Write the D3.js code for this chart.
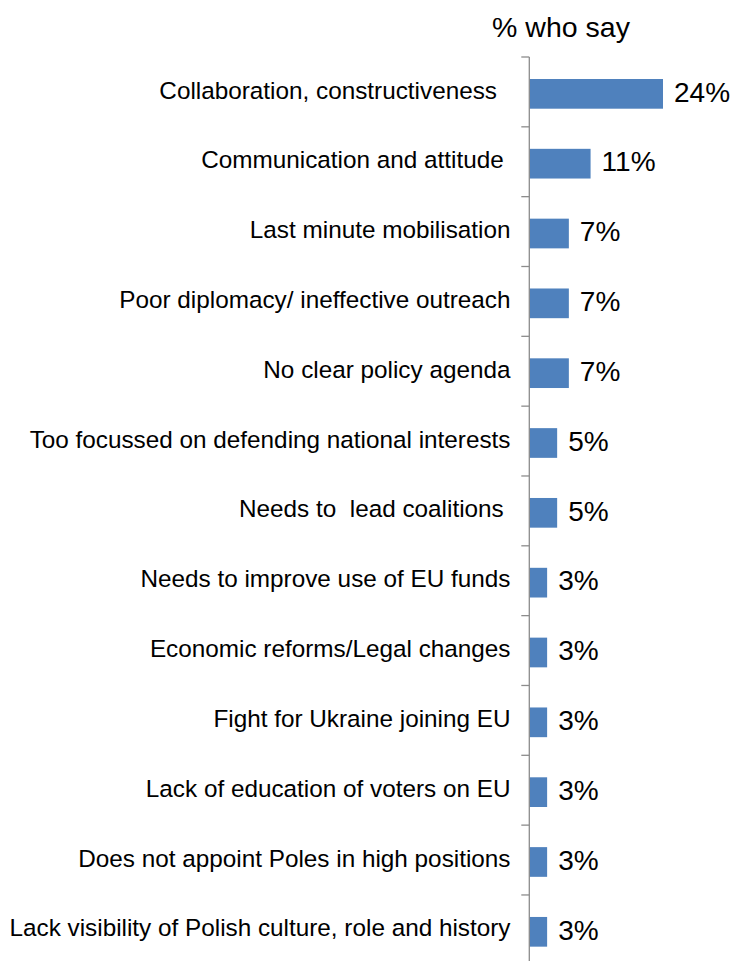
<!DOCTYPE html>
<html>
<head>
<meta charset="utf-8">
<script src="https://cdn.jsdelivr.net/npm/d3@7"></script>
<style>
  html, body { margin: 0; padding: 0; background: #fff; }
  svg { display: block; }
  text { font-family: "Liberation Sans", Arial, sans-serif; fill: #000; white-space: pre; }
</style>
</head>
<body>
<svg id="chart" width="735" height="961"></svg>
<script>
const categories = [
  "Collaboration, constructiveness  ",
  "Communication and attitude ",
  "Last minute mobilisation",
  "Poor diplomacy/ ineffective outreach",
  "No clear policy agenda",
  "Too focussed on defending national interests",
  "Needs to  lead coalitions ",
  "Needs to improve use of EU funds",
  "Economic reforms/Legal changes",
  "Fight for Ukraine joining EU",
  "Lack of education of voters on EU",
  "Does not appoint Poles in high positions",
  "Lack visibility of Polish culture, role and history"
];
const values = [24, 11, 7.1, 7.1, 7.1, 5, 5, 3.2, 3.2, 3.2, 3.2, 3.2, 3.2];
const valueLabels = ["24%", "11%", "7%", "7%", "7%", "5%", "5%", "3%", "3%", "3%", "3%", "3%", "3%"];
const title = "% who say";

const svg = d3.select("#chart");
const axisX = 529.3;
const plotTop = 57, step = 69.83;

const y = d3.scaleBand()
  .domain(categories)
  .range([plotTop, plotTop + step * categories.length])
  .paddingInner(0).paddingOuter(0);

const x = d3.scaleLinear().domain([0, 24]).range([axisX, 663]);

const barOffset = 22, barH = 29.7;

// title
svg.append("text")
  .attr("x", 561).attr("y", 37)
  .attr("text-anchor", "middle")
  .style("font-size", "28.5px")
  .text(title);

// bars
svg.selectAll("rect.bar")
  .data(categories)
  .join("rect")
  .attr("class", "bar")
  .attr("x", x(0))
  .attr("y", d => y(d) + barOffset)
  .attr("width", (d, i) => x(values[i]) - x(0))
  .attr("height", barH)
  .attr("fill", "#4F81BD");

// axis line + ticks at band boundaries
svg.append("line")
  .attr("x1", axisX).attr("x2", axisX)
  .attr("y1", plotTop).attr("y2", 961)
  .attr("stroke", "#8c8c8c").attr("stroke-width", 1.3);

svg.selectAll("line.tick")
  .data(categories)
  .join("line")
  .attr("class", "tick")
  .attr("x1", axisX - 8).attr("x2", axisX)
  .attr("y1", d => y(d)).attr("y2", d => y(d))
  .attr("stroke", "#8c8c8c").attr("stroke-width", 1.3);

// category labels
svg.selectAll("text.cat")
  .data(categories)
  .join("text")
  .attr("class", "cat")
  .attr("x", 510.5)
  .attr("y", d => y(d) + 41.5)
  .attr("text-anchor", "end")
  .style("font-size", "24.3px")
  .text(d => d);

// value labels
svg.selectAll("text.val")
  .data(categories)
  .join("text")
  .attr("class", "val")
  .attr("x", (d, i) => x(values[i]) + 11)
  .attr("y", d => y(d) + barOffset + barH / 2 + 7.8)
  .style("font-size", "28px")
  .text((d, i) => valueLabels[i]);
</script>
</body>
</html>
